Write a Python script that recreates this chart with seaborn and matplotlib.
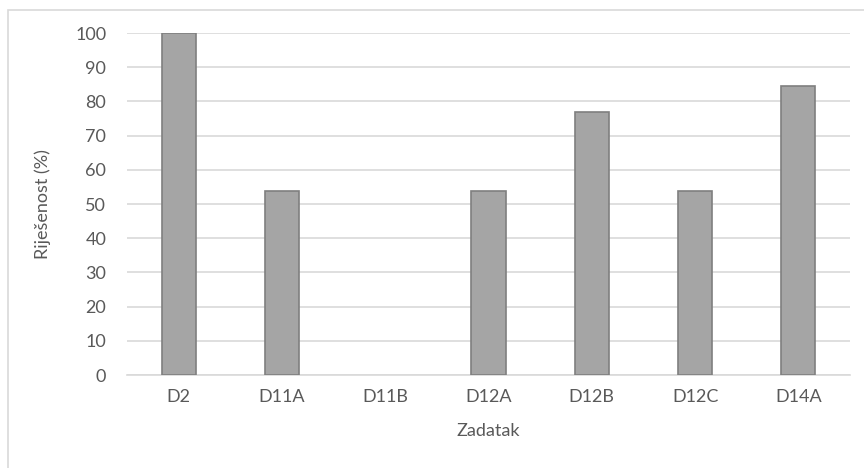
import matplotlib
matplotlib.use("Agg")
import matplotlib.pyplot as plt
from matplotlib.patches import Rectangle
import seaborn as sns
import pandas as pd

tasks = ["D2", "D11A", "D11B", "D12A", "D12B", "D12C", "D14A"]
solved_pct = [100.0, 53.8, 0.0, 53.8, 76.9, 53.8, 84.6]
y_ticks = list(range(0, 101, 10))

df = pd.DataFrame({"Zadatak": tasks, "Riješenost (%)": solved_pct})

sns.set_theme(style="white")
plt.rcParams["font.family"] = ["Lato", "DejaVu Sans"]

text_color = "#595959"
grid_color = "#d9d9d9"

fig = plt.figure(figsize=(8.64, 4.68), dpi=100)
ax = fig.add_axes([127 / 864, 1 - 375 / 468, (850 - 127) / 864, (375 - 33) / 468])

sns.barplot(data=df, x="Zadatak", y="Riješenost (%)", ax=ax, color="#a5a5a5",
            saturation=1, width=0.33, edgecolor="#7f7f7f", linewidth=1.2, zorder=3)

# zero-height bars get no outline
for bar in ax.patches:
    if bar.get_height() == 0:
        bar.set_linewidth(0)

ax.set_ylim(0, 100)
ax.set_xlim(-0.5, len(tasks) - 0.5)
ax.set_yticks(y_ticks)
ax.yaxis.grid(True, color=grid_color, linewidth=1.2, zorder=0)
ax.set_axisbelow(True)
for side in ["top", "right", "left"]:
    ax.spines[side].set_visible(False)
ax.spines["bottom"].set_color(grid_color)
ax.spines["bottom"].set_linewidth(1.2)
ax.spines["bottom"].set_zorder(1)

ax.tick_params(axis="both", length=0, labelsize=13, labelcolor=text_color)
ax.tick_params(axis="y", pad=15)
ax.tick_params(axis="x", pad=10)
ax.set_xlabel("Zadatak", fontsize=13, color=text_color, labelpad=13)
ax.set_ylabel("Riješenost (%)", fontsize=13, color=text_color, labelpad=17)

# outer chart frame
fig.patches.append(Rectangle((8 / 864, -0.01), 1.0, 1 - 10 / 468 + 0.01,
                             transform=fig.transFigure, fill=False,
                             edgecolor=grid_color, linewidth=1.2))

fig.savefig("out.png", dpi=100)
